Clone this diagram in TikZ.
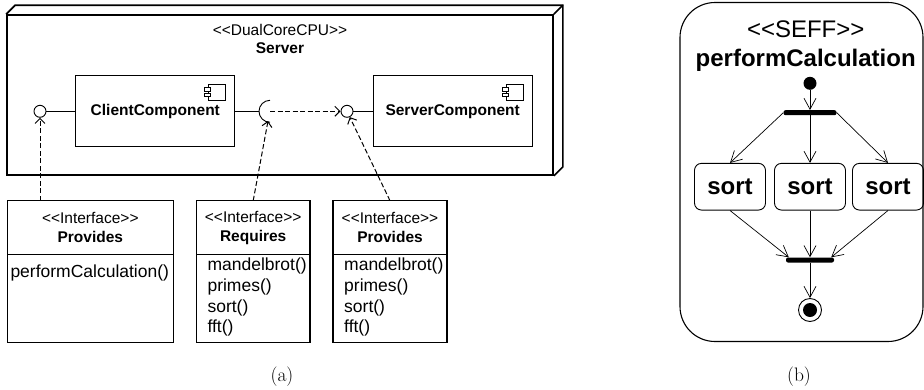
\documentclass[tikz,border=0pt]{standalone}
\usepackage{fontspec}
\usepackage{tikz}
\usetikzlibrary{positioning,calc,arrows.meta}
\newfontfamily\umlfont{Liberation Sans}
\tikzset{
  node3d/.style={draw,line width=1.7pt,minimum width=546,minimum height=160},
  comp/.style={draw,line width=1.3pt,minimum width=159,minimum height=71,
    font=\umlfont\bfseries\fontsize{15.5}{18}\selectfont},
  iface/.style={draw,line width=1.3pt,inner sep=0pt,outer sep=0pt},
  ihead/.style={iface,minimum height=53.6,align=center,
    font=\umlfont\fontsize{15.5}{19}\selectfont},
  ibody/.style={iface,minimum height=88},
  ops/.style={anchor=north west,inner sep=0pt,align=left,
    font=\umlfont\fontsize{17.5}{20.6}\selectfont},
  lolli/.style={circle,draw,line width=0.9pt,minimum size=12,inner sep=0pt},
  wire/.style={draw,line width=0.9pt},
  dep/.style={draw,line width=1pt,dash pattern=on 5pt off 2.5pt,
    -{Straight Barb[length=5pt,width=10pt]}},
  seff/.style={draw,line width=1.1pt,rounded corners=35pt,minimum width=243,minimum height=339},
  act/.style={draw,line width=0.9pt,rounded corners=7pt,minimum width=71,minimum height=46.7,
    font=\umlfont\bfseries\fontsize{24}{28}\selectfont},
  bar/.style={fill=black,rounded corners=2pt,minimum height=5,inner sep=0pt},
  flow/.style={draw,line width=0.7pt,-{Straight Barb[length=11pt,width=12pt]}},
  caption/.style={font=\fontsize{19.5}{22}\selectfont},
}

\begin{document}
\begin{tikzpicture}[x=1pt,y=-1pt]
\useasboundingbox (0,0) rectangle (924,389);
% (a) deployment
\node[node3d] (server) at (280,95) {};
\draw[line width=1.7pt] (server.north west) -- ++(9,-9) -- ([shift={(9,-9)}]server.north east)
  -- ([shift={(9,-9)}]server.south east) -- (server.south east);
\draw[line width=1.7pt] (server.north east) -- ++(9,-9);
\node[align=center,font=\umlfont\fontsize{15.5}{18}\selectfont] (srvlbl) at (280,39)
  {<<DualCoreCPU>>\\\textbf{Server}};
\node[comp] (client) at (155.3,111.3) {ClientComponent};
\node[comp] (servc) at (452.7,111.3) {ServerComponent};
\foreach \c in {client,servc}{
  \draw[line width=0.6pt] ([shift={(-27,9)}]\c.north east) rectangle ++(17,16);
  \draw[line width=0.6pt,fill=white] ([shift={(-31,12.5)}]\c.north east) rectangle ++(6,3.5);
  \draw[line width=0.6pt,fill=white] ([shift={(-31,18.5)}]\c.north east) rectangle ++(6,3);
}
\node[lolli] (pl) at (40,111.3) {};
\node[lolli] (pr) at (347,111.3) {};
\coordinate (reqc) at (270,111.3);
\coordinate (sockw) at (259,111.3);
\coordinate (sockb) at (268,121);
\draw[wire] (pl) -- (client);
\draw[wire] (pr) -- (servc);
\draw[wire] (client.east) -- (sockw);
\draw[wire] ([yshift=11pt]reqc) arc[start angle=90,end angle=270,radius=11pt];
% interfaces
\node[ihead,minimum width=166] (provL) at (90.3,227.5) {<<Interface>>\\\textbf{Provides}};
\node[ibody,minimum width=166,below=0pt of provL] (provLb) {};
\node[ihead,minimum width=113.7] (reqI) at (253.2,227.5) {<<Interface>>\\\textbf{Requires}};
\node[ibody,minimum width=113.7,below=0pt of reqI] (reqIb) {};
\node[ihead,minimum width=114] (provR) at (390,227.5) {<<Interface>>\\\textbf{Provides}};
\node[ibody,minimum width=114,below=0pt of provR] (provRb) {};
\node[ops] (provLt) at ([shift={(3,10)}]provLb.north west) {performCalculation()};
\node[ops] (reqIt) at ([shift={(11,3.7)}]reqIb.north west) {mandelbrot()\\primes()\\sort()\\fft()};
\node[ops] (provRt) at ([shift={(11,3.7)}]provRb.north west) {mandelbrot()\\primes()\\sort()\\fft()};
\draw[dep] (pl |- provL.north) -- (pl);
\draw[dep] (reqI.north) -- (sockb);
\draw[dep] (provR.north) -- (pr);
\draw[dep] (reqc) -- (pr.west);
\node[caption] (capa) at (282,377) {(a)};
% (b) SEFF
\node[seff] (seffbox) at (801.5,172) {};
\node[align=center,font=\umlfont\fontsize{24}{29.3}\selectfont] (sefflbl) at (805.7,46.3)
  {<<SEFF>>\\\textbf{performCalculation}};
\node[circle,fill,minimum size=13,inner sep=0pt] (init) at (810,83.3) {};
\node[bar,minimum width=53] (fork) at (810,112.7) {};
\node[act] (s1) at (730,186.7) {sort};
\node[act] (s2) at (810,186.7) {sort};
\node[act] (s3) at (888,186.7) {sort};
\node[bar,minimum width=48] (join) at (810,260) {};
\node[circle,draw,line width=0.9pt,minimum size=23,inner sep=0pt,
  path picture={\fill (path picture bounding box.center) circle (7pt);}] (final) at (810,310) {};
\draw[flow] (init) -- (fork);
\draw[flow] (fork.west) -- (s1.north);
\draw[flow] (fork) -- (s2);
\draw[flow] (fork.east) -- (s3.north);
\draw[flow] (s1.south) -- ([xshift=3pt]join.north west);
\draw[flow] (s2) -- (join);
\draw[flow] (s3.south) -- ([xshift=-3pt]join.north east);
\draw[flow] (join) -- (final);
\node[caption] (capb) at (799,377) {(b)};
\end{tikzpicture}
\end{document}
